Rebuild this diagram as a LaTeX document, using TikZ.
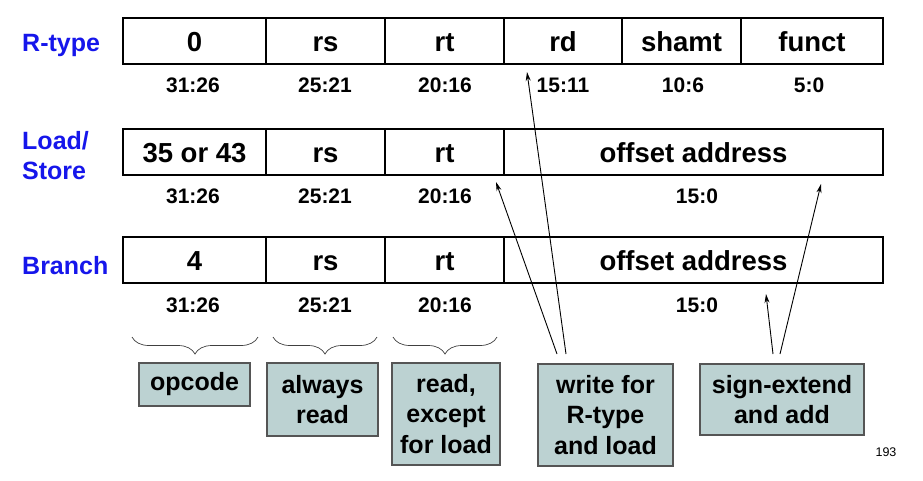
\documentclass[tikz,border=0pt]{standalone}
\usepackage{fontspec}
\setmainfont{Liberation Sans}
\usetikzlibrary{arrows.meta,decorations.pathreplacing}
\definecolor{lblblue}{RGB}{22,22,235}
\definecolor{boxfill}{RGB}{188,210,210}
\definecolor{boxedge}{RGB}{85,85,85}
\tikzset{
  field/.style={draw=black, line width=1.6pt, inner sep=0pt, minimum height=46pt,
    text height=20pt, text depth=0pt,
    font=\fontsize{27.5}{31}\bfseries\selectfont},
  bits/.style={inner sep=0pt, font=\fontsize{21}{24}\bfseries\selectfont},
  fmtlabel/.style={inner sep=0pt, anchor=west, text=lblblue, align=left,
    font=\fontsize{25}{30}\bfseries\selectfont},
  notebox/.style={draw=boxedge, fill=boxfill, line width=1.1pt, inner sep=0pt,
    align=center, font=\fontsize{25}{30.5}\bfseries\selectfont},
  bracelook/.style={draw=black!75, line width=0.7pt,
    decorate, decoration={brace, mirror, amplitude=17pt}},
  arr/.style={draw=black, line width=0.9pt, -{Stealth[length=9pt,width=5pt]}},
}
\begin{document}
\begin{tikzpicture}[x=1pt,y=-1pt]
\useasboundingbox (0,0) rectangle (923,480);
% R-type row
\node[field, minimum width=143pt] (a0) at (194.5,41) {0};
\node[field, minimum width=119pt] (a1) at (325.5,41) {rs};
\node[field, minimum width=119pt] (a2) at (444.5,41) {rt};
\node[field, minimum width=118pt] (a3) at (563,41) {rd};
\node[field, minimum width=119pt] (a4) at (681.5,41) {shamt};
\node[field, minimum width=142pt] (a5) at (812,41) {funct};
% Load/Store row
\node[field, minimum width=143pt] (b0) at (194.5,152) {35 or 43};
\node[field, minimum width=119pt] (b1) at (325.5,152) {rs};
\node[field, minimum width=119pt] (b2) at (444.5,152) {rt};
\node[field, minimum width=379pt] (b3) at (693.5,152) {offset address};
% Branch row
\node[field, minimum width=143pt] (c0) at (194.5,260) {4};
\node[field, minimum width=119pt] (c1) at (325.5,260) {rs};
\node[field, minimum width=119pt] (c2) at (444.5,260) {rt};
\node[field, minimum width=379pt] (c3) at (693.5,260) {offset address};
% bit ranges
\node[bits] (ba0) at (193,85) {31:26};
\node[bits] (ba1) at (325,85) {25:21};
\node[bits] (ba2) at (445,85) {20:16};
\node[bits] (ba3) at (563,85) {15:11};
\node[bits] (ba4) at (683,85) {10:6};
\node[bits] (ba5) at (809,85) {5:0};
\node[bits] (bb0) at (193,196) {31:26};
\node[bits] (bb1) at (325,196) {25:21};
\node[bits] (bb2) at (445,196) {20:16};
\node[bits] (bb3) at (697,196) {15:0};
\node[bits] (bc0) at (193,305) {31:26};
\node[bits] (bc1) at (325,305) {25:21};
\node[bits] (bc2) at (445,305) {20:16};
\node[bits] (bc3) at (697,305) {15:0};
% format labels
\node[fmtlabel] (lr) at (22,45) {R-type};
\node[fmtlabel] (ll) at (22,156) {Load/\\Store};
\node[fmtlabel] (lb) at (22,266) {Branch};
% braces
\draw[bracelook] (132,337) -- (258,337);
\draw[bracelook] (273,337) -- (377,337);
\draw[bracelook] (393,337) -- (497,337);
% note boxes
\node[notebox, minimum width=111pt, minimum height=43pt] (n1) at (194.5,384.5) {opcode};
\node[notebox, minimum width=111pt, minimum height=73pt] (n2) at (322.5,399.5) {always\\read};
\node[notebox, minimum width=108pt, minimum height=102pt] (n3) at (446,414) {read,\\except\\for load};
\node[notebox, minimum width=135pt, minimum height=102pt] (n4) at (605.5,415) {write for\\R-type\\and load};
\node[notebox, minimum width=164pt, minimum height=71pt] (n5) at (782,399.5) {sign-extend\\and add};
% arrows
\coordinate (w1) at (557,354);
\coordinate (w2) at (566,354);
\coordinate (s1) at (773,354);
\coordinate (s2) at (780,354);
\coordinate (trd) at (527,72);
\coordinate (trt) at (496,182);
\coordinate (tof) at (821,184);
\coordinate (tob) at (766,294);
\draw[arr] (w1) -- (trt);
\draw[arr] (w2) -- (trd);
\draw[arr] (s1) -- (tob);
\draw[arr] (s2) -- (tof);
% page number
\node[inner sep=0pt, font=\fontsize{12.5}{14}\selectfont] (pg) at (886,452) {193};
\end{tikzpicture}
\end{document}
